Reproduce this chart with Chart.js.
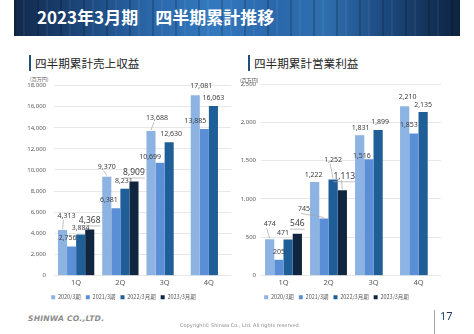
<!DOCTYPE html>
<html lang="ja">
<head>
<meta charset="utf-8">
<script src="https://cdn.jsdelivr.net/npm/chart.js@4"></script>
<style>
  html, body { margin: 0; padding: 0; background: #fff; }
  body { width: 474px; height: 334px; position: relative; overflow: hidden;
         font-family: "Noto Sans CJK JP", "Noto Sans", sans-serif; }
  .banner { position: absolute; left: 14px; top: 0; width: 446px; height: 36px;
    background:
      repeating-linear-gradient(90deg, rgba(0,0,0,0.18) 0 2px, rgba(0,0,0,0) 2px 9px, rgba(255,255,255,0.05) 9px 11px, rgba(0,0,0,0) 11px 23px),
      linear-gradient(90deg, #12284a 0%, #1b4477 14%, #2a66a8 30%, #3479bf 45%, #2a68ab 58%, #2f6fae 70%, #1d4c82 82%, #0e2340 100%); }
  .banner span { position: absolute; left: 23px; top: 7px; color: #fff; font-weight: bold;
    font-size: 17px; line-height: 20px; white-space: pre; }
  .ptitle { position: absolute; font-size: 11.6px; line-height: 16px; color: #262626;
    padding-left: 4px; border-left: 2px solid #1f4e79; white-space: nowrap; }
  .unit { position: absolute; font-size: 5px; color: #595959; }
  .box { position: absolute; }
  .logo { position: absolute; left: 28px; top: 314px; font-family: "DejaVu Sans", sans-serif;
    font-weight: bold; font-style: italic; font-size: 7.6px; color: #8c8c8c; letter-spacing: 0.2px; }
  .copy { position: absolute; left: 180px; top: 322px; font-size: 5px; color: #8c8c8c;
    font-family: "DejaVu Sans", sans-serif; white-space: nowrap; }
  .pline { position: absolute; left: 434px; top: 310px; width: 1px; height: 24px; background: #a6a6a6; }
  .pnum { position: absolute; left: 440px; top: 308px; font-size: 11px; color: #1f3a5f;
    font-family: "Noto Sans", sans-serif; }
</style>
</head>
<body>
<div class="banner"><span>2023年3月期　四半期累計推移</span></div>

<div class="ptitle" style="left:29px; top:55px;">四半期累計売上収益</div>
<div class="unit" style="left:30px; top:75px;">(百万円)</div>
<div class="box" style="left:16px; top:74px; width:220px; height:236px;"><canvas id="salesChart"></canvas></div>

<div class="ptitle" style="left:248px; top:55px;">四半期累計営業利益</div>
<div class="unit" style="left:240px; top:76px;">(百万円)</div>
<div class="box" style="left:232px; top:74px; width:216px; height:236px;"><canvas id="profitChart"></canvas></div>

<div class="logo">SHINWA CO.,LTD.</div>
<div class="copy">Copyright© Shinwa Co., Ltd. All rights reserved.</div>
<div class="pline"></div>
<div class="pnum">17</div>

<script>
// quarters and fiscal-year series
const quarters = ['1Q', '2Q', '3Q', '4Q'];
const seriesNames = ['2020/3期', '2021/3期', '2022/3月期', '2023/3月期'];
const seriesColors = ['#8db3e2', '#5a8fd8', '#1f5e96', '#0f2540'];

// cumulative revenue (million yen)
const sales2020 = [4313, 9370, 13688, 17081];
const sales2021 = [2756, 6381, 10699, 13885];
const sales2022 = [3884, 8231, 12630, 16063];
const sales2023 = [4368, 8909, null, null];
const salesTicks = { max: 18000, step: 2000 };

// cumulative operating profit (million yen)
const profit2020 = [474, 1222, 1831, 2210];
const profit2021 = [205, 745, 1516, 1853];
const profit2022 = [471, 1252, 1899, 2135];
const profit2023 = [546, 1113, null, null];
const profitTicks = { max: 2500, step: 500 };

// label nudges relative to each bar top: [dx, dy, leader line]
const salesLabelPos = [
  [[4, -14, 1], [0, -10, 1], [6, -13, 1], [6, -9, 0]],
  [[-4, -8, 0], [-7, -8, 0], [-10, -6, 0], [-9, -8, 0]],
  [[0, -7, 0], [-1, -8, 0], [2, -8, 0], [0, -8, 0]],
  [[0, -9, 0], [0, -9, 0]]
];
const profitLabelPos = [
  [[0, -15, 1], [-1, -7, 0], [1, -7, 0], [3, -9, 0]],
  [[0, -8, 0], [-20, -9, 1], [-7, -3, 0], [-5, -9, 0]],
  [[-5, -6, 0], [0, -20, 1], [2, -8, 0], [0, -7, 0]],
  [[0, -10, 0], [2, -14, 1]]
];

const tickColor = '#595959';

// draws the value text over each bar
const valueLabels = {
  id: 'valueLabels',
  afterDatasetsDraw(chart, args, opts) {
    const ctx = chart.ctx;
    chart.data.datasets.forEach((ds, i) => {
      const meta = chart.getDatasetMeta(i);
      meta.data.forEach((bar, j) => {
        const v = ds.data[j];
        if (v == null) return;
        const o = opts.positions[i][j];
        const big = i === 3;
        const x = bar.x + o[0];
        const y = bar.y + o[1];
        const txt = v.toLocaleString('en-US');
        ctx.save();
        ctx.font = (big ? '8.5px' : '7px') + ' "Noto Sans", sans-serif';
        ctx.fillStyle = '#404040';
        ctx.textAlign = 'center';
        ctx.textBaseline = 'middle';
        ctx.fillText(txt, x, y);
        ctx.strokeStyle = '#a6a6a6';
        ctx.lineWidth = 0.7;
        if (o[2]) {
          ctx.beginPath();
          ctx.moveTo(x - 3, y + 4);
          ctx.lineTo(bar.x, bar.y - 1);
          ctx.stroke();
        }
        if (big) {
          const w = ctx.measureText(txt).width;
          ctx.beginPath();
          ctx.moveTo(x - w / 2, y + 5.5);
          ctx.lineTo(x + w / 2, y + 5.5);
          ctx.stroke();
        }
        ctx.restore();
      });
    });
  }
};

function makeChart(id, series, ticks, positions, axisWidth, padRight, tickPad) {
  const datasets = series.map((data, i) => ({
    label: seriesNames[i],
    data: data,
    backgroundColor: seriesColors[i],
    borderWidth: 0,
    barPercentage: 1.0,
    categoryPercentage: 0.82
  }));
  return new Chart(document.getElementById(id), {
    type: 'bar',
    data: { labels: quarters, datasets: datasets },
    plugins: [valueLabels],
    options: {
      responsive: true,
      maintainAspectRatio: false,
      animation: false,
      locale: 'en-US',
      layout: { padding: { top: 10, right: padRight, left: 0, bottom: 0 } },
      plugins: {
        tooltip: { enabled: false },
        legend: {
          position: 'bottom',
          labels: {
            boxWidth: 4,
            boxHeight: 4,
            padding: 5,
            color: tickColor,
            font: { size: 5.5, family: '"Noto Sans CJK JP", sans-serif' }
          }
        },
        valueLabels: { positions: positions }
      },
      scales: {
        x: {
          grid: { display: false, drawTicks: false },
          border: { display: false },
          ticks: { color: tickColor, padding: 3, font: { size: 7.5, family: '"Noto Sans", sans-serif' } },
          afterFit(scale) { scale.height = 14; }
        },
        y: {
          min: 0,
          max: ticks.max,
          grid: { color: '#dcdcdc', lineWidth: 0.7, drawTicks: false },
          border: { display: false },
          ticks: {
            stepSize: ticks.step,
            color: tickColor,
            padding: tickPad,
            font: { size: 6, family: '"Noto Sans", sans-serif' }
          },
          afterFit(scale) { scale.width = axisWidth; }
        }
      }
    }
  });
}

makeChart('salesChart', [sales2020, sales2021, sales2022, sales2023], salesTicks, salesLabelPos, 38, 5, 8);
makeChart('profitChart', [profit2020, profit2021, profit2022, profit2023], profitTicks, profitLabelPos, 29, 7, 5);
</script>
</body>
</html>
